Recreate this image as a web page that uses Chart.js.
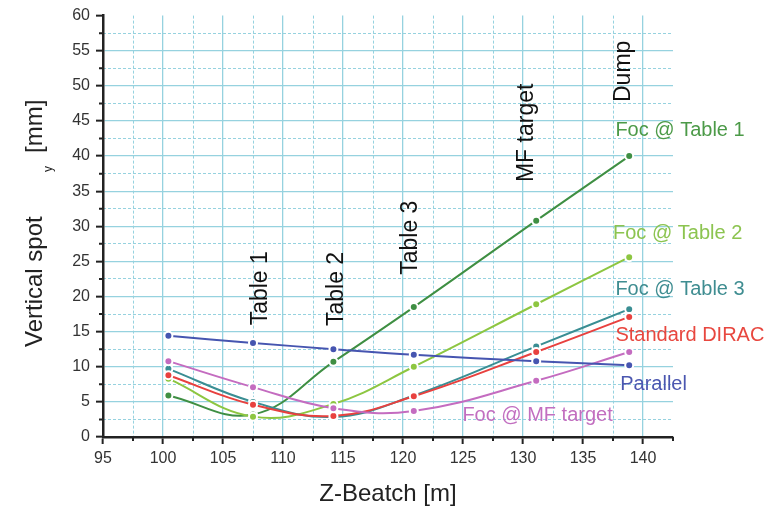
<!DOCTYPE html>
<html>
<head>
<meta charset="utf-8">
<script src="https://cdn.jsdelivr.net/npm/chart.js@4.4.1/dist/chart.umd.min.js"></script>
<style>
    html, body { margin: 0; padding: 0; background: #fff; }
    #wrap { width: 781px; height: 509px; }
</style>
</head>
<body>
<div id="wrap"><canvas id="chart"></canvas></div>
<script>
// ── 데이터 ─────────────────────────────────────────────────────
const zPos       = [100.45, 107.5, 114.2, 120.9, 131.1, 138.85];
const parallel   = [14.4, 13.4, 12.5, 11.7, 10.8, 10.2];
const focTable1  = [5.9, 3.2, 10.7, 18.5, 30.8, 40.0];
const focTable2  = [8.3, 2.9, 4.7, 10.0, 18.9, 25.6];
const focTable3  = [9.7, 5.0, 2.85, 5.9, 12.9, 18.2];
const standard   = [8.8, 4.6, 3.0, 5.8, 12.1, 17.1];
const focMF      = [10.8, 7.1, 4.1, 3.7, 8.0, 12.1];

const xTicks = [95, 100, 105, 110, 115, 120, 125, 130, 135, 140];
const yTicks = [0, 5, 10, 15, 20, 25, 30, 35, 40, 45, 50, 55, 60];

// 세로 주석 (위치: x값, 시작 y값)
const markers = [
    { text: 'Table 1',   x: 108.7,  y: 15.9 },
    { text: 'Table 2',   x: 115.0,  y: 15.8 },
    { text: 'Table 3',   x: 121.2,  y: 23.1 },
    { text: 'MF target', x: 130.8,  y: 36.3 },
    { text: 'Dump',      x: 138.95, y: 47.7 },
];

// 시리즈 이름표
const seriesLabels = [
    { text: 'Foc @ Table 1',   x: 137.7,  y: 42.9, color: '#4c9a48' },
    { text: 'Foc @ Table 2',   x: 137.5,  y: 28.2, color: '#8cc450' },
    { text: 'Foc @ Table 3',   x: 137.7,  y: 20.2, color: '#3f8d91' },
    { text: 'Standard DIRAC',  x: 137.7,  y: 13.7, color: '#e8473f' },
    { text: 'Parallel',        x: 138.1,  y: 6.7,  color: '#4b57b0' },
    { text: 'Foc @ MF target', x: 124.95, y: 2.3,  color: '#c26fc0' },
];

const FONT = 'Liberation Sans, Arial, sans-serif';
const GRID = '#96d2df';

function series(label, values, color) {
    return {
        label,
        data: zPos.map((x, i) => ({ x, y: values[i] })),
        borderColor: color,
        backgroundColor: color,
        borderWidth: 2,
        tension: 0.4,
        pointRadius: 4,
        pointBorderColor: '#fff',
        pointBorderWidth: 2,
        pointBackgroundColor: color,
    };
}

// 보조 눈금, 주석, y축 제목
const decorations = {
    id: 'decorations',
    afterDraw(chart) {
        const { ctx, chartArea } = chart;
        const xs = chart.scales.x, ys = chart.scales.y;
        ctx.save();

        // minor ticks
        ctx.strokeStyle = '#222';
        ctx.lineWidth = 2;
        ctx.beginPath();
        for (let v = 97.5; v <= 142.5; v += 5) {
            const px = xs.getPixelForValue(v);
            ctx.moveTo(px, chartArea.bottom);
            ctx.lineTo(px, chartArea.bottom + 4);
        }
        for (let v = 2.5; v <= 57.5; v += 5) {
            const py = ys.getPixelForValue(v);
            ctx.moveTo(chartArea.left, py);
            ctx.lineTo(chartArea.left - 4, py);
        }
        ctx.stroke();

        // vertical markers
        ctx.fillStyle = '#111';
        ctx.font = '23px ' + FONT;
        ctx.textAlign = 'left';
        ctx.textBaseline = 'alphabetic';
        markers.forEach(m => {
            ctx.save();
            ctx.translate(xs.getPixelForValue(m.x), ys.getPixelForValue(m.y));
            ctx.rotate(-Math.PI / 2);
            ctx.fillText(m.text, 0, 0);
            ctx.restore();
        });

        // series labels
        ctx.font = '20px ' + FONT;
        seriesLabels.forEach(l => {
            ctx.fillStyle = l.color;
            ctx.fillText(l.text, xs.getPixelForValue(l.x), ys.getPixelForValue(l.y));
        });

        // y-axis title: Vertical spot  y [mm]
        ctx.fillStyle = '#222';
        ctx.translate(42, 347);
        ctx.rotate(-Math.PI / 2);
        ctx.font = '24px ' + FONT;
        ctx.fillText('Vertical spot', 0, 0);
        ctx.font = '12px ' + FONT;
        ctx.fillText('y', 175, 10);
        ctx.font = '24px ' + FONT;
        ctx.fillText('[mm]', 194, 0);

        ctx.restore();
    }
};

new Chart(document.getElementById('chart'), {
    type: 'line',
    data: {
        datasets: [
            series('Parallel',        parallel,  '#4655b0'),
            series('Foc @ MF target', focMF,     '#c46cc0'),
            series('Standard DIRAC',  standard,  '#e8413f'),
            series('Foc @ Table 3',   focTable3, '#3a8e93'),
            series('Foc @ Table 2',   focTable2, '#8dc641'),
            series('Foc @ Table 1',   focTable1, '#3f8f43'),
        ],
    },
    options: {
        responsive: true,
        maintainAspectRatio: false,
        animation: false,
        layout: { padding: { top: 15, right: 108, left: 0, bottom: 0 } },
        plugins: {
            legend: { display: false },
            tooltip: { enabled: false },
        },
        scales: {
            x: {
                type: 'linear',
                position: 'bottom',
                min: 95,
                max: 142.5,
                afterFit: s => { s.height = 72; },
                afterBuildTicks: s => { s.ticks = xTicks.map(value => ({ value })); },
                ticks: {
                    color: '#333',
                    font: { family: FONT, size: 16 },
                    padding: 5,
                    maxRotation: 0,
                },
                grid: {
                    color: GRID,
                    lineWidth: 1.3,
                    tickColor: '#222',
                    tickLength: 7,
                    tickWidth: 2,
                },
                border: { color: '#222', width: 2.5 },
                title: {
                    display: true,
                    text: 'Z-Beatch [m]',
                    color: '#222',
                    font: { family: FONT, size: 24 },
                    padding: { top: 0, bottom: 0 },
                },
            },
            // 점선 보조 격자 (x)
            x2: {
                type: 'linear',
                position: 'bottom',
                min: 95,
                max: 142.5,
                afterFit: s => { s.height = 0; },
                afterBuildTicks: s => {
                    const t = [];
                    for (let v = 97.5; v < 142.5; v += 5) t.push({ value: v });
                    s.ticks = t;
                },
                ticks: { display: false },
                grid: { color: GRID, drawTicks: false },
                border: { display: false, dash: [3, 2] },
            },
            y: {
                min: 0,
                max: 60,
                afterFit: s => { s.width = 103; },
                afterBuildTicks: s => { s.ticks = yTicks.map(value => ({ value })); },
                ticks: {
                    color: '#333',
                    font: { family: FONT, size: 16 },
                    padding: 6,
                },
                grid: {
                    color: ctx => (ctx.tick && ctx.tick.value === 60) ? 'rgba(0,0,0,0)' : GRID,
                    lineWidth: 1.3,
                    tickColor: '#222',
                    tickLength: 7,
                    tickWidth: 2,
                },
                border: { color: '#222', width: 2.5 },
            },
            // 점선 보조 격자 (y)
            y2: {
                position: 'left',
                min: 0,
                max: 60,
                afterFit: s => { s.width = 0; },
                afterBuildTicks: s => {
                    const t = [];
                    for (let v = 2.5; v < 60; v += 5) t.push({ value: v });
                    s.ticks = t;
                },
                ticks: { display: false },
                grid: { color: GRID, drawTicks: false },
                border: { display: false, dash: [3, 2] },
            },
        },
    },
    plugins: [decorations],
});
</script>
</body>
</html>
